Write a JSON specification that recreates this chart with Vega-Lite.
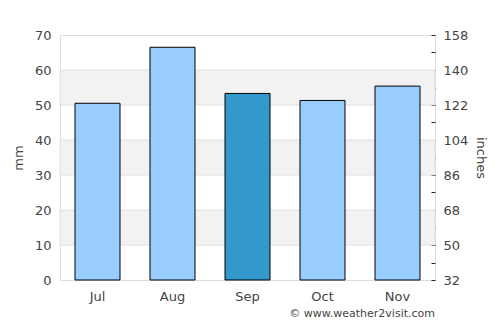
{
  "$schema": "https://vega.github.io/schema/vega-lite/v6.json",
  "width": 375,
  "height": 245,
  "autosize": "none",
  "padding": {"left": 60, "top": 35, "right": 65, "bottom": 45},
  "background": "white",
  "config": {
    "font": "DejaVu Sans",
    "view": {"stroke": "#dddddd", "strokeWidth": 1},
    "axis": {"labelFont": "DejaVu Sans", "titleFont": "DejaVu Sans", "labelColor": "#444444", "titleColor": "#444444", "labelFontSize": 13, "titleFontSize": 13, "titleFontWeight": "normal"}
  },
  "title": {"text": "© www.weather2visit.com", "orient": "bottom", "anchor": "end", "frame": "group", "fontSize": 11, "fontWeight": "normal", "color": "#444444", "offset": 5, "font": "DejaVu Sans"},
  "datasets": {
    "rain": [
      {"month": "Jul", "mm": 50.5, "highlight": "no"},
      {"month": "Aug", "mm": 66.5, "highlight": "no"},
      {"month": "Sep", "mm": 53.3, "highlight": "yes"},
      {"month": "Oct", "mm": 51.3, "highlight": "no"},
      {"month": "Nov", "mm": 55.4, "highlight": "no"}
    ],
    "bands": [
      {"lo": 10, "hi": 20},
      {"lo": 30, "hi": 40},
      {"lo": 50, "hi": 60}
    ]
  },
  "layer": [
    {
      "data": {"name": "bands"},
      "mark": {"type": "rect", "fill": "#f2f2f2", "stroke": "#e0e0e0", "strokeWidth": 1},
      "encoding": {
        "y": {"field": "lo", "type": "quantitative", "scale": {"domain": [0, 70], "nice": false}, "axis": null},
        "y2": {"field": "hi"}
      }
    },
    {
      "data": {"name": "rain"},
      "mark": {"type": "bar", "stroke": "black", "strokeWidth": 1},
      "encoding": {
        "x": {"field": "month", "type": "nominal", "sort": null, "scale": {"paddingInner": 0.4, "paddingOuter": 0.2},
              "axis": {"title": null, "labelAngle": 0, "ticks": false, "domain": false, "labelPadding": 10}},
        "y": {"field": "mm", "type": "quantitative", "scale": {"domain": [0, 70], "nice": false},
              "axis": {"title": "mm", "values": [0,10,20,30,40,50,60,70], "ticks": false, "domain": false, "grid": false, "labelPadding": 9, "titlePadding": 9}},
        "color": {"field": "highlight", "type": "nominal", "scale": {"domain": ["no", "yes"], "range": ["#99ccff", "#3399cc"]}, "legend": null}
      }
    },
    {
      "data": {"name": "rain"},
      "mark": {"type": "bar", "opacity": 0},
      "encoding": {
        "x": {"field": "month", "type": "nominal", "sort": null},
        "y": {"field": "mm", "type": "quantitative",
              "axis": {"orient": "right", "title": "inches", "grid": false, "domain": false, "values": [0,5,10,15,20,25,30,35,40,45,50,55,60,65,70],
                       "labelExpr": "datum.value % 10 == 0 ? format(datum.value * 1.8 + 32, 'd') : ''",
                       "tickColor": "#222222", "tickSize": -4, "labelPadding": 12, "titlePadding": 6}}
      }
    }
  ],
  "resolve": {"axis": {"y": "independent"}}
}
